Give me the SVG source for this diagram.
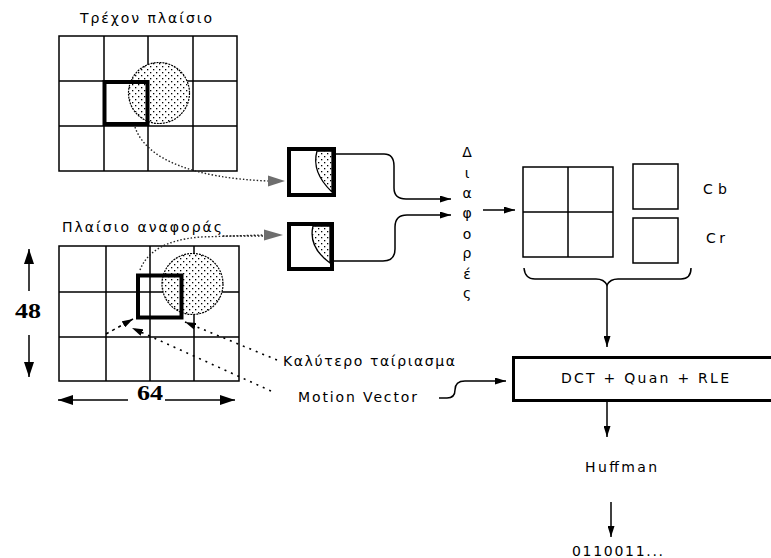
<svg xmlns="http://www.w3.org/2000/svg" width="771" height="558" viewBox="0 0 771 558">
<style>
text{font-family:"DejaVu Sans","Liberation Sans",sans-serif;font-size:14px;fill:#000}
.num{font-family:"Liberation Serif","DejaVu Serif",serif;font-size:22px;font-weight:bold}
.grid{fill:none;stroke:#000;stroke-width:1.5}
.thick{fill:none;stroke:#000;stroke-width:4}
.circ{fill:url(#dots);stroke:#000;stroke-width:1.2;stroke-dasharray:2 1}
.stip{fill:url(#dots);stroke:#000;stroke-width:1.3}
.line{fill:none;stroke:#000;stroke-width:1.5}
.dot{fill:none;stroke:#222;stroke-width:1.4;stroke-dasharray:1.5 2}
.dash{fill:none;stroke:#000;stroke-width:1.6;stroke-dasharray:3 4}
.gray{fill:#6e6e6e}
</style>
<defs>
<pattern id="dots" width="6" height="6" patternUnits="userSpaceOnUse">
<rect width="6" height="6" fill="#fff"/>
<rect x="0" y="0" width="1.3" height="1.3" fill="#000"/>
<rect x="3" y="3" width="1.3" height="1.3" fill="#000"/>
</pattern>
<marker id="arr" viewBox="0 0 11 7" markerWidth="11" markerHeight="7" refX="11" refY="3.5" orient="auto" markerUnits="userSpaceOnUse">
<path d="M0,0 L11,3.5 L0,7 z" fill="#000"/>
</marker>
<marker id="arrBig" viewBox="0 0 15 10" markerWidth="15" markerHeight="10" refX="15" refY="5" orient="auto" markerUnits="userSpaceOnUse">
<path d="M0,0 L15,5 L0,10 z" fill="#000"/>
</marker>
</defs>
<rect width="771" height="558" fill="#fff"/>

<g id="current-frame">
<text x="80" y="22.5" textLength="132" lengthAdjust="spacing">Τρέχον πλαίσιο</text>
<rect class="grid" x="59" y="36" width="178" height="135"/>
<path class="grid" d="M104,36V171M148,36V171M193,36V171M59,81H237M59,126H237"/>
<circle class="circ" cx="159" cy="93" r="30.5"/>
<rect class="thick" x="104.5" y="82" width="43" height="42"/>
</g>

<g id="reference-frame">
<text x="62" y="232" textLength="160" lengthAdjust="spacing">Πλαίσιο αναφοράς</text>
<rect class="grid" x="59" y="246" width="180" height="135"/>
<path class="grid" d="M106,246V381M150,246V381M194,246V381M59,292H239M59,337H239"/>
<circle class="circ" cx="192.5" cy="284" r="30.5"/>
<rect class="thick" x="138" y="275.5" width="43.5" height="42"/>
</g>

<g id="dim-48">
<text class="num" x="15" y="318" textLength="26" lengthAdjust="spacingAndGlyphs">48</text>
</g>
<g id="dim-64">
<text class="num" x="137" y="400" textLength="26" lengthAdjust="spacingAndGlyphs">64</text>
</g>

<g id="block-current">
<rect class="thick" x="289" y="149" width="45" height="46"/>
<path class="stip" d="M317,151 Q311,172 332,192 L332,151 Z"/>
</g>
<g id="block-reference">
<rect class="thick" x="289" y="224" width="43" height="45"/>
<path class="stip" d="M313,226 Q308,247 330,263 L330,226 Z"/>
</g>

<g id="differences">
<text x="467" y="157" text-anchor="middle">Δ</text>
<text x="467" y="178" text-anchor="middle">ι</text>
<text x="467" y="198" text-anchor="middle">α</text>
<text x="467" y="218" text-anchor="middle">φ</text>
<text x="467" y="239" text-anchor="middle">ο</text>
<text x="467" y="258" text-anchor="middle">ρ</text>
<text x="467" y="279" text-anchor="middle">έ</text>
<text x="467" y="298" text-anchor="middle">ς</text>
</g>

<g id="luma-blocks">
<rect class="grid" x="523" y="167" width="90" height="90"/>
<path class="grid" d="M568,167V257M523,212H613"/>
</g>
<g id="cb-block">
<rect class="grid" x="633" y="164" width="45" height="45"/>
<text x="703" y="194" textLength="24" lengthAdjust="spacing">Cb</text>
</g>
<g id="cr-block">
<rect class="grid" x="633" y="218" width="45" height="45"/>
<text x="706" y="243" textLength="19" lengthAdjust="spacing">Cr</text>
</g>

<g id="dct-box">
<rect x="513.5" y="357.5" width="270" height="43" fill="#fff" stroke="#000" stroke-width="3"/>
<text x="561" y="383" textLength="168" lengthAdjust="spacing">DCT + Quan + RLE</text>
</g>
<g id="huffman">
<text x="585" y="472" textLength="72" lengthAdjust="spacing">Huffman</text>
</g>
<g id="output">
<text x="572" y="556" textLength="91" lengthAdjust="spacing">0110011...</text>
</g>

<g id="best-match-label">
<text x="283" y="365.5" textLength="172" lengthAdjust="spacing">Καλύτερο ταίριασμα</text>
</g>
<g id="motion-vector-label">
<text x="298" y="402" textLength="119" lengthAdjust="spacing">Motion Vector</text>
</g>

<g id="connectors">
<path class="line" d="M29,291V249" marker-end="url(#arrBig)"/>
<path class="line" d="M29,335V377" marker-end="url(#arrBig)"/>
<path class="line" d="M128,400H58" marker-end="url(#arrBig)"/>
<path class="line" d="M165,400H235" marker-end="url(#arrBig)"/>

<path class="dot" d="M135,127 C146,160 195,178 268,181"/>
<polygon class="gray" points="268,175.5 285,181 268,186.5"/>
<path class="dot" d="M140,270 C147,252 165,240 200,237 L264,235"/>
<path class="dot" d="M223,236 H264"/>
<polygon class="gray" points="264,229.5 283,235 264,240.5"/>

<path class="dash" d="M106,334 L133,319" marker-end="url(#arr)"/>
<path class="dot" style="stroke:#000;stroke-dasharray:2 5;stroke-width:1.6" d="M271,391 L132,328" marker-end="url(#arr)"/>
<path class="dot" style="stroke:#000;stroke-dasharray:2 5;stroke-width:1.6" d="M277,360 L185,322" marker-end="url(#arr)"/>

<path class="line" d="M336,154 H384 Q394,154 394,166 V188 Q394,199 406,199 H451" marker-end="url(#arr)"/>
<path class="line" d="M334,261 H383 Q395,261 395,249 V227 Q395,215 407,215 H451" marker-end="url(#arr)"/>
<path class="line" d="M483,210 H515" marker-end="url(#arr)"/>

<path class="line" d="M524,268 Q525,279 535,279 L596,279 Q604,279 607,285 Q610,279 618,279 L681,279 Q691,279 691,268"/>
<path class="line" d="M607,285 V347" marker-end="url(#arr)"/>
<path class="line" d="M439,398 H447 Q455,398 455,390 Q455,381 465,381 H506" marker-end="url(#arr)"/>
<path class="line" d="M607,402 V437" marker-end="url(#arr)"/>
<path class="line" d="M611,502 V537" marker-end="url(#arr)"/>
</g>
</svg>
